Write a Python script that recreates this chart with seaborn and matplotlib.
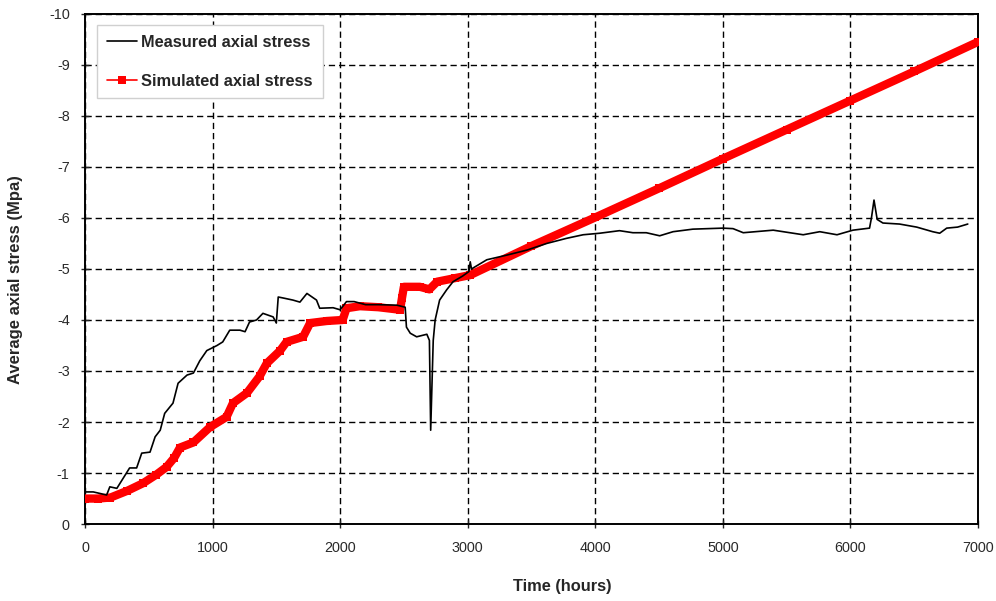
import matplotlib
matplotlib.use("Agg")
import matplotlib.pyplot as plt
from matplotlib.lines import Line2D
import seaborn as sns
import pandas as pd

# Measured axial stress (hours, MPa)
meas_t = [0, 65, 170, 195, 250, 290, 350, 405, 445, 510, 550, 590, 625, 690, 730,
          800, 850, 900, 955, 1035, 1080, 1135, 1215, 1255, 1290, 1345, 1395, 1475,
          1500, 1515, 1555, 1630, 1685, 1740, 1815, 1840, 1945, 2000, 2050, 2110,
          2200, 2300, 2445, 2510, 2520, 2550, 2600, 2680, 2700, 2710, 2730, 2745,
          2780, 2835, 2885, 2960, 3010, 3020, 3030, 3150, 3305, 3465, 3620, 3775,
          3905, 4035, 4190, 4295, 4400, 4505, 4610, 4765, 5000, 5080, 5160, 5395,
          5630, 5760, 5895, 6020, 6150, 6165, 6185, 6210, 6255, 6385, 6520, 6645,
          6700, 6755, 6840, 6920]
meas_s = [-0.63, -0.63, -0.57, -0.73, -0.70, -0.86, -1.10, -1.10, -1.39, -1.41,
          -1.71, -1.84, -2.17, -2.37, -2.76, -2.92, -2.96, -3.20, -3.40, -3.50,
          -3.57, -3.80, -3.80, -3.77, -3.96, -4.00, -4.13, -4.06, -3.94, -4.45,
          -4.43, -4.39, -4.35, -4.52, -4.39, -4.23, -4.24, -4.20, -4.36, -4.36,
          -4.30, -4.30, -4.29, -4.25, -3.86, -3.74, -3.67, -3.72, -3.60, -1.84,
          -3.60, -4.00, -4.39, -4.59, -4.75, -4.86, -4.95, -5.14, -5.00, -5.18,
          -5.27, -5.37, -5.50, -5.60, -5.67, -5.70, -5.75, -5.71, -5.71, -5.65,
          -5.73, -5.78, -5.80, -5.79, -5.71, -5.76, -5.67, -5.73, -5.67, -5.76,
          -5.80, -6.00, -6.35, -5.97, -5.90, -5.88, -5.82, -5.73, -5.70, -5.80,
          -5.82, -5.88]

# Simulated axial stress (hours, MPa)
sim_t = [0, 100, 200, 330, 455, 560, 640, 700, 745, 850, 980, 1110, 1160, 1270,
         1370, 1425, 1530, 1580, 1710, 1765, 1895, 2020, 2050, 2155, 2300, 2470,
         2485, 2500, 2625, 2700, 2760, 2900, 3020, 3500, 4000, 4500, 5000, 5500,
         6000, 6500, 7000]
sim_s = [-0.50, -0.50, -0.52, -0.65, -0.80, -0.97, -1.12, -1.30, -1.50, -1.60,
         -1.90, -2.10, -2.37, -2.57, -2.90, -3.15, -3.40, -3.57, -3.67, -3.94,
         -3.98, -4.00, -4.23, -4.27, -4.25, -4.20, -4.43, -4.65, -4.65, -4.60,
         -4.75, -4.82, -4.88, -5.45, -6.01, -6.58, -7.16, -7.73, -8.30, -8.87,
         -9.45]

x_ticks = [0, 1000, 2000, 3000, 4000, 5000, 6000, 7000]
y_ticks = [0, -1, -2, -3, -4, -5, -6, -7, -8, -9, -10]

sns.set_style("white")
plt.rcParams['font.family'] = ['Liberation Sans', 'DejaVu Sans']

fig = plt.figure(figsize=(9.96, 6.01), dpi=100)
ax = fig.add_axes([0.0853, 0.128, 0.8966, 0.849])

df_m = pd.DataFrame({"t": meas_t, "s": meas_s})
df_s = pd.DataFrame({"t": sim_t, "s": sim_s})

sns.lineplot(data=df_s, x="t", y="s", ax=ax, sort=False, estimator=None,
             color="#ff0000", linewidth=6, marker="s", markersize=6,
             markeredgewidth=0, solid_capstyle="butt", zorder=3)
sns.lineplot(data=df_m, x="t", y="s", ax=ax, sort=False, estimator=None,
             color="black", linewidth=1.2, zorder=4)

ax.set_xlim(0, 7000)
ax.set_ylim(0, -10)
ax.set_xticks(x_ticks)
ax.set_yticks(y_ticks)
ax.set_xticklabels([str(v) for v in x_ticks])
ax.set_yticklabels([str(v) for v in y_ticks])

ax.grid(True, color="black", linestyle=(0, (4.5, 2.8)), linewidth=1.0)
ax.set_axisbelow(True)
for sp in ax.spines.values():
    sp.set_visible(True)
    sp.set_color("black")
    sp.set_linewidth(1.4)

ax.tick_params(axis="both", direction="inout", length=6, width=1.0,
               labelsize=10.4, labelcolor="#2a2a2a",
               bottom=True, left=True)
ax.tick_params(axis="x", pad=9)
ax.tick_params(axis="y", pad=8)

ax.set_xlabel("Time (hours)", fontsize=11.8, fontweight="bold")
ax.set_ylabel("Average axial stress (Mpa)", fontsize=12, fontweight="bold")
ax.xaxis.set_label_coords(0.535, -0.108)
ax.yaxis.set_label_coords(-0.0694, 0.48)

handles = [
    Line2D([0], [0], color="black", linewidth=1.2),
    Line2D([0], [0], color="#ff0000", linewidth=1.2, marker="s",
           markersize=6, markeredgewidth=0),
]
leg = ax.legend(handles, ["Measured axial stress", "Simulated axial stress"],
                loc="upper left", bbox_to_anchor=(0.0134, 0.978),
                fancybox=False, framealpha=1, edgecolor="#d0d0d0",
                fontsize=11.8, handlelength=1.85, labelspacing=1.45,
                borderpad=0.6, handletextpad=0.25, borderaxespad=0)
leg.get_frame().set_linewidth(1.0)
for t in leg.get_texts():
    t.set_fontweight("bold")

fig.savefig("out.png", dpi=100)
